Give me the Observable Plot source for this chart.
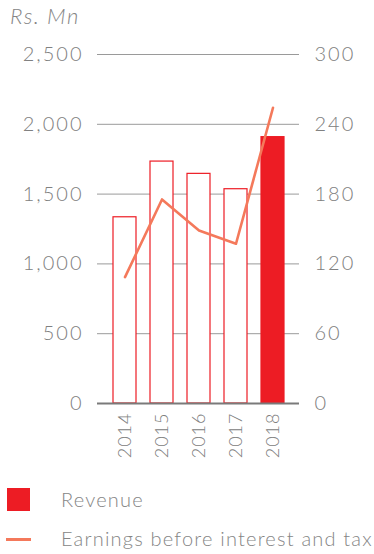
<!DOCTYPE html>
<html>
<head>
<meta charset="utf-8">
<script src="https://cdn.jsdelivr.net/npm/d3@7"></script>
<script src="https://cdn.jsdelivr.net/npm/@observablehq/plot@0.6"></script>
<style>
  body { margin: 0; background: #fff; font-family: Lato, "Open Sans", sans-serif; }
  #wrap { width: 374px; height: 554px; position: relative; overflow: hidden; }
  #title { position: absolute; left: 10px; top: 2px; font-size: 22px; font-style: italic; color: #858585; font-weight: 300; letter-spacing: 1.4px; }
  #chart { position: absolute; left: 0; top: 36px; }
  #chart svg text { letter-spacing: 2px; }
  #chart svg g.xt text { letter-spacing: 1px; }
  .leg { position: absolute; left: 0; font-size: 20px; color: #858585; font-weight: 300; letter-spacing: 1.2px; }
  .leg .sw { position: absolute; }
  .leg span { position: absolute; left: 61px; white-space: nowrap; }
</style>
</head>
<body>
<div id="wrap">
  <div id="title">Rs. Mn</div>
  <div id="chart"></div>
  <div class="leg" style="top:488px;width:374px;height:24px;">
    <div class="sw" style="left:7px;top:0;width:23px;height:23px;background:#ed1c24;"></div>
    <span style="top:-1px;">Revenue</span>
  </div>
  <div class="leg" style="top:526px;width:374px;height:26px;">
    <div class="sw" style="left:6px;top:12px;width:25px;height:3px;background:#f4795b;"></div>
    <span style="top:0px;">Earnings before interest and tax</span>
  </div>
</div>
<script>
const years = ["2014", "2015", "2016", "2017", "2018"];
const revenue = [1334, 1733, 1645, 1535, 1908];
const ebit = [108.6, 175.4, 148.7, 137.3, 254.2];
const leftTicks = [0, 500, 1000, 1500, 2000, 2500];
const rightTicks = [0, 60, 120, 180, 240, 300];

const leftMax = 2500, rightMax = 300;
const k = leftMax / rightMax;

const barData = years.map((y, i) => ({year: y, value: revenue[i], highlight: y === "2018"}));
const lineData = years.map((y, i) => ({year: y, value: ebit[i] * k}));

const chart = Plot.plot({
  width: 374,
  height: 444,
  marginTop: 18,
  marginBottom: 77,
  marginLeft: 97,
  marginRight: 75,
  style: {fontFamily: "Lato, 'Open Sans', sans-serif", fontSize: "20px", color: "#808080", background: "transparent"},
  x: {type: "band", domain: years, paddingInner: 0.39, paddingOuter: 0.42},
  y: {domain: [0, leftMax]},
  marks: [
    Plot.ruleY(leftTicks.filter(d => d > 0), {stroke: "#9a9a9a", strokeWidth: 1, strokeOpacity: 1}),
    Plot.barY(barData, {x: "year", y: "value", fill: d => d.highlight ? "#ed1c24" : "#ffffff", stroke: "#ed1c24", strokeWidth: 1.2}),
    Plot.ruleY([0], {stroke: "#7a7a7a", strokeWidth: 2}),
    Plot.line(lineData, {x: "year", y: "value", stroke: "#f4795b", strokeWidth: 2.6}),
    Plot.axisY({anchor: "left", ticks: leftTicks, tickSize: 0, tickPadding: 14, tickFormat: d => d3.format(",")(d), label: null, fontSize: 20, fontWeight: 300, fill: "#808080"}),
    Plot.axisY({anchor: "right", ticks: rightTicks.map(d => d * k), tickSize: 0, tickPadding: 15, tickFormat: d => String(Math.round(d / k)), label: null, fontSize: 20, fontWeight: 300, fill: "#808080"}),
    Plot.axisX({ticks: years, tickSize: 0, tickPadding: 9, tickRotate: -90, label: null, fontSize: 18, fontWeight: 300, fill: "#808080", className: "xt"})
  ]
});
document.getElementById("chart").appendChild(chart);
</script>
</body>
</html>
